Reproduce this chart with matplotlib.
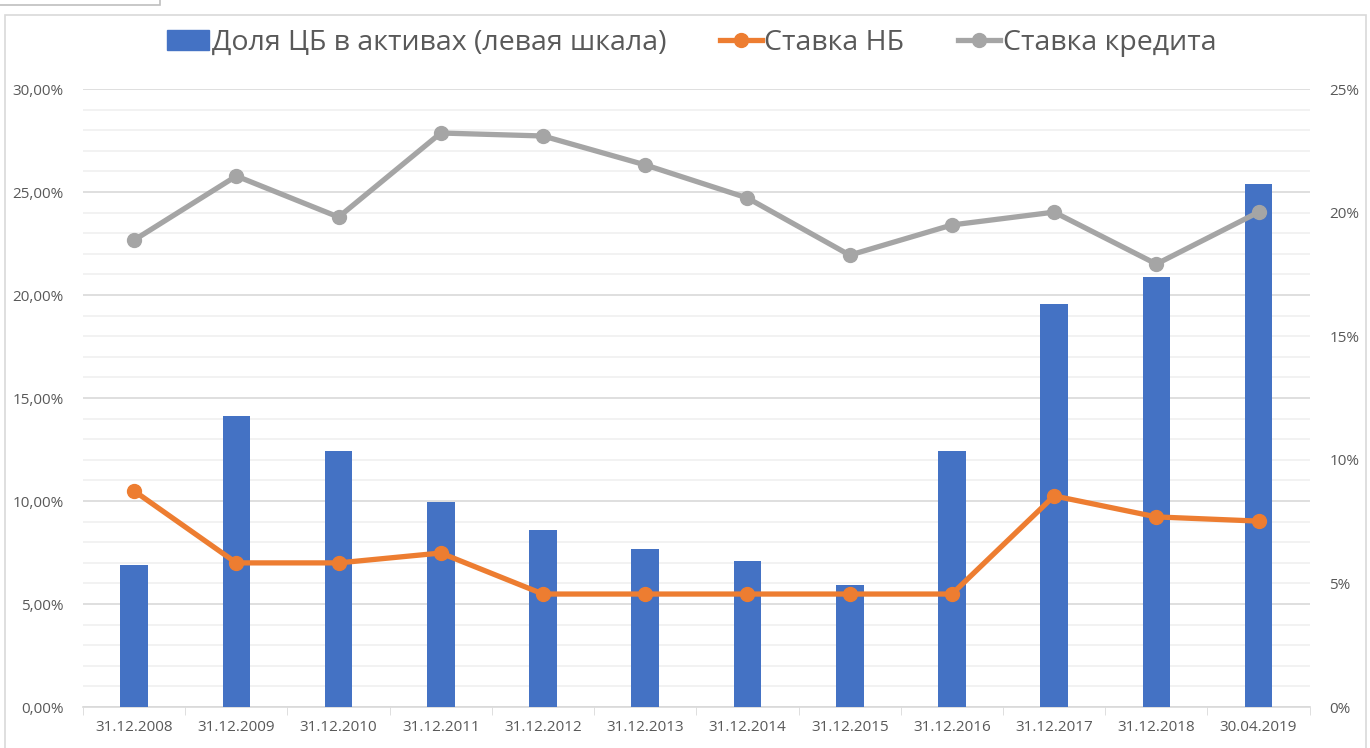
import matplotlib.pyplot as plt
from matplotlib.lines import Line2D
from matplotlib.patches import Patch, Rectangle
from matplotlib.ticker import FuncFormatter, MultipleLocator, FixedLocator
import numpy as np

plt.rcParams['font.family'] = ['Open Sans', 'DejaVu Sans']

# categories and series
dates = ["31.12.2008", "31.12.2009", "31.12.2010", "31.12.2011", "31.12.2012", "31.12.2013",
         "31.12.2014", "31.12.2015", "31.12.2016", "31.12.2017", "31.12.2018", "30.04.2019"]
cb_share = [6.87, 14.13, 12.41, 9.97, 8.59, 7.69, 7.09, 5.92, 12.43, 19.58, 20.86, 25.39]
nb_rate = [8.74, 5.83, 5.83, 6.23, 4.57, 4.57, 4.57, 4.57, 4.57, 8.54, 7.69, 7.52]
loan_rate = [18.89, 21.48, 19.82, 23.22, 23.10, 21.93, 20.59, 18.28, 19.50, 20.02, 17.92, 20.02]

blue = "#4472C4"
orange = "#ED7D31"
grey = "#A5A5A5"
txt = "#595959"

fig = plt.figure(figsize=(13.7, 7.48), dpi=100)
ax = fig.add_axes([0.0606, 0.0548, 0.8954, 0.8262])
x = np.arange(len(dates))

ax.bar(x, cb_share, width=0.27, color=blue, zorder=3)
ax.set_xlim(-0.5, len(dates) - 0.5)
ax.set_ylim(0, 30)
ax.yaxis.set_major_locator(MultipleLocator(5))
ax.yaxis.set_minor_locator(MultipleLocator(1))
ax.yaxis.set_major_formatter(FuncFormatter(lambda v, p: ("%.2f%%" % v).replace(".", ",")))
ax.grid(axis='y', which='major', color="#D9D9D9", linewidth=1.2, zorder=0)
ax.grid(axis='y', which='minor', color="#F0F0F0", linewidth=1.2, zorder=0)
ax.set_xticks(x)
ax.set_xticklabels(dates)
ax.xaxis.set_minor_locator(FixedLocator(np.arange(-0.5, len(dates), 1)))
ax.tick_params(axis='x', which='major', length=0, pad=9, labelsize=11, labelcolor=txt)
ax.tick_params(axis='x', which='minor', length=6, color="#D9D9D9")
ax.tick_params(axis='y', which='both', length=0, pad=14, labelsize=11, labelcolor=txt)
for s in ["top", "right", "left"]:
    ax.spines[s].set_visible(False)
ax.spines["bottom"].set_color("#D9D9D9")
ax.spines["bottom"].set_linewidth(1.2)

ax2 = ax.twinx()
ax2.plot(x, loan_rate, color=grey, linewidth=3.8, marker='o', markersize=10, zorder=4)
ax2.plot(x, nb_rate, color=orange, linewidth=3.8, marker='o', markersize=10, zorder=4)
ax2.set_ylim(0, 25)
ax2.yaxis.set_major_locator(MultipleLocator(5))
ax2.yaxis.set_major_formatter(FuncFormatter(lambda v, p: "%d%%" % v))
ax2.tick_params(axis='y', length=0, pad=14, labelsize=11, labelcolor=txt)
for s in ["top", "right", "left", "bottom"]:
    ax2.spines[s].set_visible(False)

handles = [Patch(color=blue),
           Line2D([], [], color=orange, linewidth=3.8, marker='o', markersize=10),
           Line2D([], [], color=grey, linewidth=3.8, marker='o', markersize=10)]
labels = ["Доля ЦБ в активах (левая шкала)", "Ставка НБ", "Ставка кредита"]
fig.legend(handles, labels, loc='center', bbox_to_anchor=(0.505, 0.943), ncol=3,
           frameon=False, fontsize=20.5, labelcolor=txt, handlelength=1.45,
           handletextpad=0.1, columnspacing=1.9)

# chart border and the stray box at the top left
fig.patches.append(Rectangle((5 / 1370, -0.01), 1361 / 1370, 1 - 15 / 748 + 0.01,
                             transform=fig.transFigure, fill=False, edgecolor="#D9D9D9", linewidth=1.2))
fig.patches.append(Rectangle((-0.01, 1 - 5 / 748), 174 / 1370, 0.02,
                             transform=fig.transFigure, fill=False, edgecolor="#BFBFBF", linewidth=1.2))

fig.savefig("out.png", dpi=100)
